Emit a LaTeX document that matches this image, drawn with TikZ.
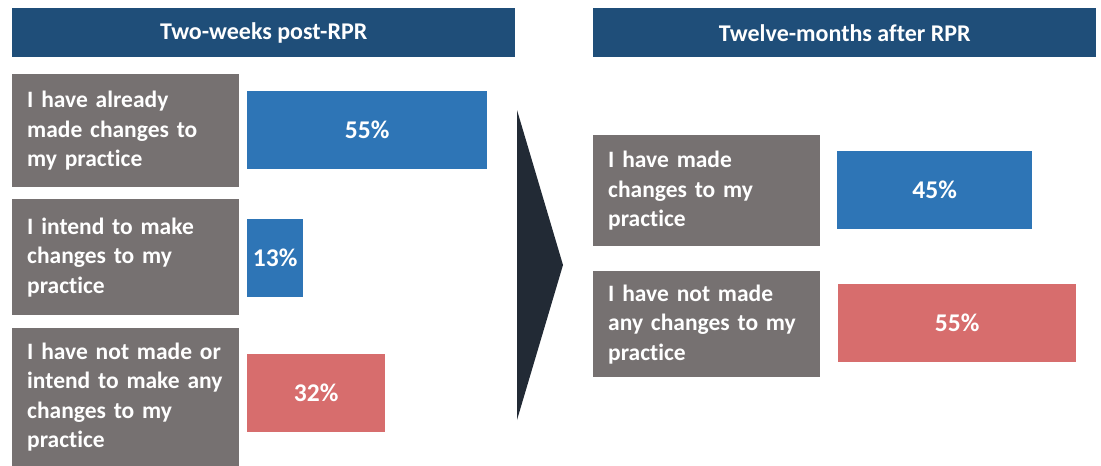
\documentclass[tikz,border=0pt]{standalone}
\usepackage{fontspec}
\setmainfont{Carlito}[Ligatures=NoCommon]
\definecolor{headblue}{HTML}{1F4E79}
\definecolor{stmtgray}{HTML}{767171}
\definecolor{barblue}{HTML}{2E75B6}
\definecolor{barred}{HTML}{D76D6D}
\definecolor{chevdark}{HTML}{222A35}

\begin{document}
\begin{tikzpicture}[x=1pt,y=-1pt,
        head/.style={fill=headblue,text=white,anchor=north west,inner sep=0pt,
            minimum width=503pt,minimum height=49pt,
            font=\bfseries\fontsize{24}{28}\selectfont},
        stmt/.style={fill=stmtgray,text=white,anchor=north west,inner xsep=15pt,
            inner ysep=0pt,text width=197pt,align=left,
            font=\bfseries\fontsize{23.5}{29.5}\selectfont},
        bar/.style={text=white,anchor=north west,inner sep=0pt,minimum height=78pt,
            font=\bfseries\fontsize{25.5}{28}\selectfont}]
        \useasboundingbox (0,0) rectangle (1101,466);

        % headers
        \node[head] (headL) at (12,8) {Two-weeks post-RPR};
        \node[head] (headR) at (593,8) {Twelve-months after RPR};

        % left column
        \node[stmt,minimum height=113pt] (stL1) at (12,74)
            {I have already\\made changes to\\my practice};
        \node[stmt,minimum height=116pt] (stL2) at (12,199)
            {I intend to make\\changes to my\\practice};
        \node[stmt,minimum height=138pt] (stL3) at (12,328)
            {I have not made or\\intend to make any\\changes to my\\practice};

        % right column
        \node[stmt,minimum height=111pt] (stR1) at (593,135)
            {I have made\\changes to my\\practice};
        \node[stmt,minimum height=106pt] (stR2) at (593,271)
            {I have not made\\any changes to my\\practice};

        \foreach \n/\x/\y/\w/\c/\v in {L1/247/91/240/barblue/55,
                L2/247/219/56/barblue/13, L3/247/354/138/barred/32,
                R1/837/151/195/barblue/45, R2/838/284/238/barred/55}{
            \node[bar,fill=\c,minimum width=\w pt] (bar\n) at (\x,\y) {\v\%};
        }

        % chevron
        \fill[chevdark] (517,110) -- (563,265) -- (517,420) -- cycle;
    \end{tikzpicture}
\end{document}
